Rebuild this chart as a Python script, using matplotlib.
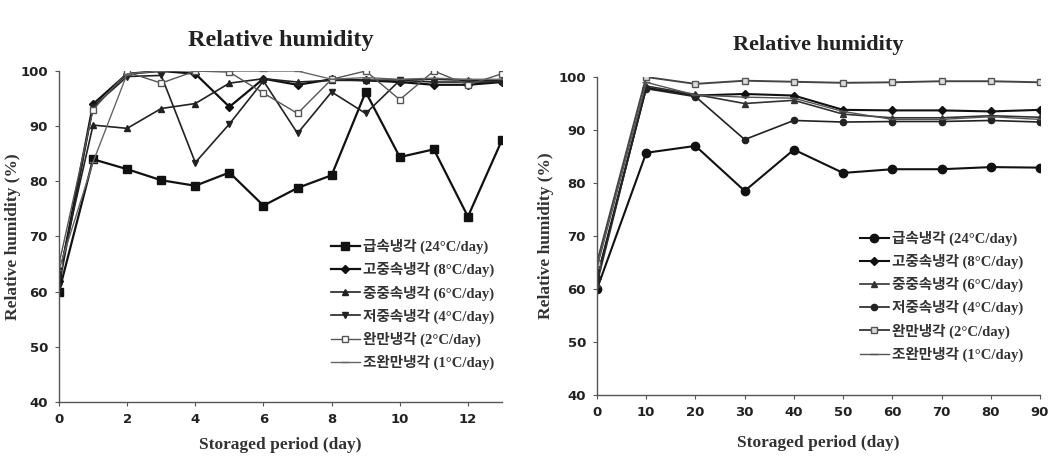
import matplotlib
matplotlib.use('Agg')
import matplotlib.pyplot as plt

# 범례 라벨
labels = ['급속냉각 (24°C/day)', '고중속냉각 (8°C/day)', '중중속냉각 (6°C/day)',
          '저중속냉각 (4°C/day)', '완만냉각 (2°C/day)', '조완만냉각 (1°C/day)']

# 왼쪽 그래프 (0~13일)
days_a = [0, 1, 2, 3, 4, 5, 6, 7, 8, 9, 10, 11, 12, 13]
rapid_a = [60, 84, 82.2, 80.2, 79.2, 81.6, 75.6, 78.8, 81.1, 96.2, 84.4, 85.8, 73.6, 87.5]
high_a = [62, 94, 99.5, 100, 99.5, 93.5, 98.6, 97.5, 98.5, 98.3, 98, 97.5, 97.5, 98]
mid_a = [63, 90.2, 89.6, 93.2, 94.1, 97.8, 98.6, 98.0, 98.3, 98.3, 98.4, 98.5, 98.3, 98.2]
low_a = [61, 93.5, 99, 99.2, 83.4, 90.4, 98.2, 88.7, 96.2, 92.3, 98.3, 98, 98, 98]
slow_a = [65, 93, 99.8, 97.8, 100, 99.8, 96, 92.3, 98.5, 100, 94.8, 100, 97.5, 99.5]
vslow_a = [64, 83.5, 99.5, 100, 100, 100, 100, 100, 98.5, 98.8, 98.5, 98.7, 98.5, 98.5]

# 오른쪽 그래프 (0~90일)
days_b = [0, 10, 20, 30, 40, 50, 60, 70, 80, 90]
rapid_b = [60, 85.7, 87, 78.5, 86.3, 81.9, 82.6, 82.6, 83, 82.9]
high_b = [62, 98, 96.5, 96.8, 96.5, 93.8, 93.7, 93.7, 93.5, 93.8]
mid_b = [61, 98.3, 96.7, 95, 95.6, 93, 92.3, 92.3, 92.7, 92.4]
low_b = [62, 97.8, 96.3, 88.2, 91.8, 91.5, 91.6, 91.6, 91.8, 91.5]
slow_b = [65, 100, 98.7, 99.3, 99.1, 98.9, 99.0, 99.2, 99.2, 99.0]
vslow_b = [64, 99, 96.6, 96.2, 96, 93.5, 92.0, 92.0, 92.5, 92.0]

W, H = 1053, 462
SERIF = 'Liberation Serif'
KFONT = ['Liberation Serif', 'Noto Sans CJK KR']


def px_rect(x0, y_top, x1, y_bot):
    return [x0 / W, 1 - y_bot / H, (x1 - x0) / W, (y_bot - y_top) / H]


def draw_panel(fig, rect, xs, series, styles, xlim, xticks, title_y, title_size,
               leg_anchor, ylab_x, xlab_y):
    ax = fig.add_axes(rect)
    for ys, lab, st in zip(series, labels, styles):
        ax.plot(xs, ys, label=lab, **st)
    ax.set_xlim(xlim)
    ax.set_ylim(40, 100)
    ax.set_xticks(xticks)
    ax.set_yticks(range(40, 101, 10))
    for s in ['top', 'right']:
        ax.spines[s].set_visible(False)
    for s in ['left', 'bottom']:
        ax.spines[s].set_color('#555555')
        ax.spines[s].set_linewidth(1.0)
    ax.tick_params(direction='out', length=3, color='#555555', labelsize=9.5, pad=5)
    for t in ax.get_xticklabels() + ax.get_yticklabels():
        t.set_fontweight('bold')
        t.set_color('#222222')
    ax.set_xlabel('Storaged period (day)', family=SERIF, fontweight='bold',
                  fontsize=12.5, color='#333333')
    ax.set_ylabel('Relative humidity (%)', family=SERIF, fontweight='bold',
                  fontsize=12.5, color='#333333')
    ax.yaxis.set_label_coords(ylab_x, 0.5)
    ax.xaxis.set_label_coords(0.5, xlab_y)
    ax.set_title('Relative humidity', family=SERIF, fontweight='bold',
                 fontsize=title_size, color='#222222', y=title_y)
    leg = ax.legend(loc='upper left', bbox_to_anchor=leg_anchor, frameon=False,
                    prop={'family': KFONT, 'size': 10.5, 'weight': 'bold'},
                    handlelength=2.0, handletextpad=0.2, labelspacing=0.55,
                    borderaxespad=0)
    for t in leg.get_texts():
        t.set_color('#333333')
    return ax


fig = plt.figure(figsize=(W / 100, H / 100), dpi=100)

styles_a = [
    dict(color='#111111', lw=1.6, marker='s', ms=6, mfc='#111111'),
    dict(color='#111111', lw=1.6, marker='D', ms=4),
    dict(color='#222222', lw=1.2, marker='^', ms=4),
    dict(color='#222222', lw=1.2, marker='v', ms=4),
    dict(color='#555555', lw=1.0, marker='s', ms=5, mfc='white', mec='#555555'),
    dict(color='#666666', lw=1.0, marker='_', ms=6),
]
draw_panel(fig, px_rect(59, 71, 502, 402), days_a,
           [rapid_a, high_a, mid_a, low_a, slow_a, vslow_a], styles_a,
           (0, 13), range(0, 13, 2), 1.05, 17.5, (0.60, 0.51),
           -0.085, -0.106)

styles_b = [
    dict(color='#111111', lw=1.5, marker='o', ms=6),
    dict(color='#111111', lw=1.5, marker='D', ms=4),
    dict(color='#333333', lw=1.2, marker='^', ms=4),
    dict(color='#222222', lw=1.2, marker='o', ms=4.5),
    dict(color='#444444', lw=1.4, marker='s', ms=5, mfc='#dddddd', mec='#555555'),
    dict(color='#555555', lw=1.0, marker='_', ms=6),
]
draw_panel(fig, px_rect(597, 77, 1040, 395), days_b,
           [rapid_b, high_b, mid_b, low_b, slow_b, vslow_b], styles_b,
           (0, 90), range(0, 91, 10), 1.06, 16, (0.58, 0.535),
           -0.097, -0.126)

fig.savefig('out.png', dpi=100)
